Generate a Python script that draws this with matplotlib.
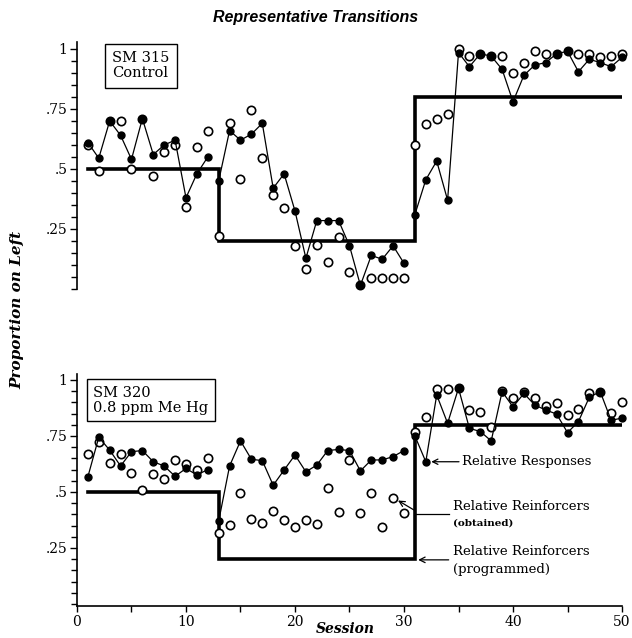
import numpy as np
import matplotlib.pyplot as plt
from matplotlib.ticker import MultipleLocator, FixedLocator

# sessions and condition boundaries
sessions = np.arange(1, 51)
cond_edges = [1, 13, 31, 50]
prog_values = [0.5, 0.2, 0.8]

# SM 315 (Control) - relative responses (filled) and obtained reinforcers (open)
resp_315 = [0.61, 0.545, 0.70, 0.64, 0.54, 0.71, 0.56, 0.60, 0.62, 0.38,
            0.48, 0.55, 0.45, 0.66, 0.62, 0.645, 0.69, 0.42, 0.48, 0.325,
            0.128, 0.285, 0.285, 0.285, 0.18, 0.015, 0.14, 0.124, 0.18, 0.107,
            0.31, 0.455, 0.533, 0.37, 0.985, 0.926, 0.98, 0.97, 0.915, 0.78,
            0.89, 0.933, 0.943, 0.98, 0.99, 0.905, 0.957, 0.943, 0.926, 0.965]
rft_315 = [0.60, 0.49, 0.70, 0.70, 0.50, 0.71, 0.47, 0.57, 0.60, 0.34,
           0.59, 0.66, 0.22, 0.69, 0.46, 0.745, 0.547, 0.39, 0.336, 0.18,
           0.083, 0.183, 0.114, 0.215, 0.072, 0.015, 0.045, 0.045, 0.045, 0.045,
           0.60, 0.686, 0.707, 0.73, 1.0, 0.97, 0.98, 0.97, 0.97, 0.90,
           0.94, 0.99, 0.98, 0.98, 0.99, 0.98, 0.98, 0.965, 0.97, 0.98]

# SM 320 (0.8 ppm Me Hg)
resp_320 = [0.568, 0.744, 0.687, 0.616, 0.68, 0.685, 0.635, 0.616, 0.57, 0.605,
            0.576, 0.60, 0.37, 0.616, 0.728, 0.646, 0.64, 0.53, 0.598, 0.665,
            0.59, 0.62, 0.685, 0.69, 0.685, 0.594, 0.643, 0.643, 0.658, 0.685,
            0.75, 0.635, 0.933, 0.807, 0.963, 0.784, 0.77, 0.728, 0.948, 0.88,
            0.94, 0.888, 0.866, 0.848, 0.765, 0.814, 0.923, 0.948, 0.82, 0.83]
rft_320 = [0.67, 0.725, 0.628, 0.67, 0.586, 0.51, 0.58, 0.56, 0.643, 0.625,
           0.60, 0.65, 0.315, 0.353, 0.494, 0.38, 0.36, 0.417, 0.375, 0.345,
           0.375, 0.356, 0.52, 0.41, 0.643, 0.405, 0.497, 0.342, 0.475, 0.405,
           0.77, 0.836, 0.958, 0.958, 0.963, 0.866, 0.855, 0.79, 0.952, 0.918,
           0.945, 0.918, 0.885, 0.896, 0.844, 0.869, 0.94, 0.948, 0.854, 0.90]

serif = 'DejaVu Serif'
plt.rcParams['font.family'] = serif

fig = plt.figure(figsize=(6.32, 6.38), dpi=100)
ax1 = fig.add_axes([0.1218, 0.547, 0.8624, 0.3876])
ax2 = fig.add_axes([0.1218, 0.0498, 0.8624, 0.3634])


def draw_panel(ax, resp, rft):
    resp = np.array(resp)
    rft = np.array(rft)
    # programmed step line
    sx, sy = [], []
    for i, v in enumerate(prog_values):
        sx += [cond_edges[i], cond_edges[i + 1]]
        sy += [v, v]
    ax.plot(sx, sy, color='black', lw=2.6, solid_joinstyle='miter', zorder=2)
    # obtained reinforcers
    ax.plot(sessions, rft, 'o', mfc='white', mec='black', mew=1.2, ms=6,
            zorder=3, clip_on=False)
    # responses, each condition its own line
    starts = [1, 13, 31]
    ends = [12, 30, 50]
    for a, b in zip(starts, ends):
        m = (sessions >= a) & (sessions <= b)
        ax.plot(sessions[m], resp[m], '-o', color='black', lw=0.9, ms=5,
                zorder=4, clip_on=False)
    ax.set_xlim(0, 50)
    ax.spines['top'].set_visible(False)
    ax.spines['right'].set_visible(False)
    ax.yaxis.set_major_locator(FixedLocator([0.25, 0.5, 0.75, 1.0]))
    ax.set_yticklabels(['.25', '.5', '.75', '1'])
    ax.yaxis.set_minor_locator(MultipleLocator(0.05))
    ax.tick_params(axis='y', which='major', length=5, width=1, labelsize=10, pad=2)
    ax.tick_params(axis='y', which='minor', length=4, width=1)
    ax.spines['left'].set_linewidth(1.2)


draw_panel(ax1, resp_315, rft_315)
ax1.set_ylim(0, 1.03)
ax1.spines['bottom'].set_visible(False)
ax1.set_xticks([])

draw_panel(ax2, resp_320, rft_320)
ax2.set_ylim(-0.01, 1.025)
ax2.spines['bottom'].set_linewidth(1.2)
ax2.xaxis.set_major_locator(MultipleLocator(10))
ax2.xaxis.set_minor_locator(MultipleLocator(5))
ax2.tick_params(axis='x', which='both', length=4, width=1, labelsize=10, pad=2)

# subject boxes
ax1.text(3.2, 0.99, 'SM 315\nControl', va='top', ha='left', fontsize=10.5,
         linespacing=1.1,
         bbox=dict(boxstyle='square,pad=0.5', fc='white', ec='black', lw=1))
ax2.text(1.5, 0.975, 'SM 320\n0.8 ppm Me Hg', va='top', ha='left', fontsize=10.5,
         linespacing=1.1,
         bbox=dict(boxstyle='square,pad=0.45', fc='white', ec='black', lw=1))

# annotations
arr = dict(arrowstyle='->', color='black', lw=0.9, shrinkA=0, shrinkB=0)
ax2.annotate('Relative Responses', xy=(32.5, 0.635), xytext=(35.3, 0.635),
             va='center', ha='left', fontsize=9.5, arrowprops=arr)
ax2.text(34.5, 0.434, 'Relative Reinforcers', va='center', ha='left', fontsize=9.5)
ax2.text(34.5, 0.362, '(obtained)', va='center', ha='left', fontsize=7.5,
         fontweight='bold')
ax2.plot([31, 34.1], [0.40, 0.40], color='black', lw=0.9)
ax2.annotate('', xy=(29.45, 0.462), xytext=(30.9, 0.42), arrowprops=arr)
ax2.text(34.5, 0.234, 'Relative Reinforcers', va='center', ha='left', fontsize=9.5)
ax2.text(34.5, 0.155, '(programmed)', va='center', ha='left', fontsize=9.5)
ax2.annotate('', xy=(31.3, 0.197), xytext=(34.1, 0.197), arrowprops=arr)

fig.text(0.5, 0.972, 'Representative Transitions', ha='center', va='center',
         fontsize=11.5, fontweight='bold', fontstyle='italic',
         family='Liberation Sans')
fig.text(0.027, 0.514, 'Proportion on Left', rotation=90, ha='center',
         va='center', fontsize=11, fontweight='bold', fontstyle='italic')
fig.text(0.546, 0.003, 'Session', ha='center', va='bottom', fontsize=10,
         fontweight='bold', fontstyle='italic')

fig.savefig('out.png', dpi=100, facecolor='white')
